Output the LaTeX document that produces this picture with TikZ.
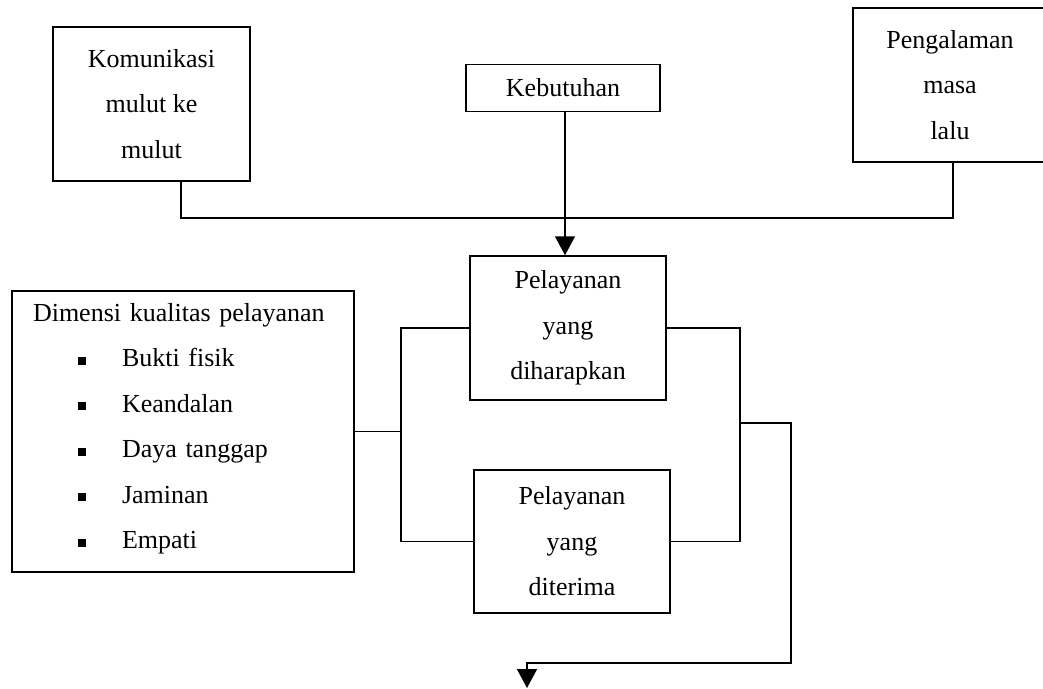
\documentclass[tikz,border=0pt]{standalone}
\usepackage{fontspec}
\setmainfont{Liberation Serif}
\usetikzlibrary{arrows.meta}
\tikzset{
  x=1pt, y=-1pt,
  every node/.style={font=\fontsize{26pt}{45.5pt}\selectfont},
  boxnode/.style={draw, line width=1.5pt, inner sep=0pt, align=center},
  conn/.style={line width=1.5pt},
  arr/.style={line width=1.5pt, -{Triangle[width=20pt,length=19pt]}},
}
\newcommand{\bulletsq}{\hspace*{45pt}\rule[2pt]{8pt}{8pt}\hspace*{36pt}}
\begin{document}
\begin{tikzpicture}
\useasboundingbox (0,0) rectangle (1043,688);
\clip (0,0) rectangle (1043,688);
\node[boxnode, minimum width=197pt, minimum height=154pt] (kom) at (151.5,104) {Komunikasi\\mulut ke\\mulut};
\node[boxnode, minimum width=194pt, minimum height=47pt] (keb) at (563,88) {Kebutuhan};
\node[boxnode, minimum width=194pt, minimum height=154pt] (peng) at (950,85) {Pengalaman\\masa\\lalu};
\node[boxnode, minimum width=196pt, minimum height=144pt] (har) at (568,328) {Pelayanan\\yang\\diharapkan};
\node[boxnode, minimum width=196pt, minimum height=143pt] (ter) at (572,541.5) {Pelayanan\\yang\\diterima};
\node[boxnode, minimum width=342pt, minimum height=281pt, inner xsep=21pt, text width=300pt, align=left] (dim) at (183,431.5) {\mbox{}\\[-32.5pt]
Dimensi kualitas pelayanan\\
\bulletsq Bukti fisik\\
\bulletsq Keandalan\\
\bulletsq Daya tanggap\\
\bulletsq Jaminan\\
\bulletsq Empati};
\coordinate (jL) at (181,218);
\coordinate (jR) at (953,218);
\coordinate (ka) at (565,0);
\coordinate (bl) at (401,432);
\coordinate (br) at (740,423);
\coordinate (ol) at (791,663);
\coordinate (ae) at (527,688);
\draw[conn] (kom.south -| jL) -- (jL) -- (jR) -- (peng.south -| jR);
\draw[arr] (keb.south -| ka) -- (har.north -| ka);
\draw[conn] (dim.east) -- (dim.east -| bl);
\draw[conn] (har.west) -- (har.west -| bl) -- (ter.west -| bl) -- (ter.west);
\draw[conn] (har.east) -- (har.east -| br) -- (ter.east -| br) -- (ter.east);
\draw[arr] (br) -- (br -| ol) -- (ol) -- (ol -| ae) -- (ae);
\end{tikzpicture}
\end{document}
